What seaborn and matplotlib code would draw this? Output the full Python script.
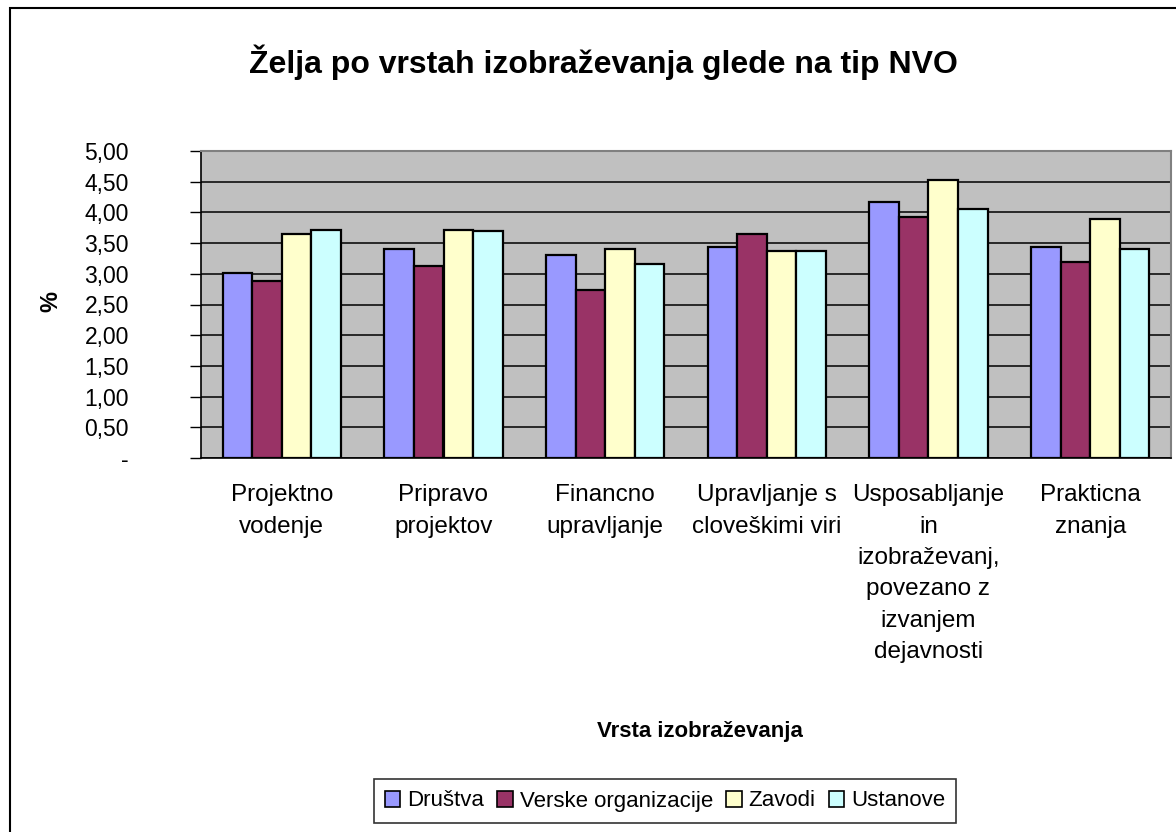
import matplotlib
matplotlib.use("Agg")
import matplotlib.pyplot as plt
import seaborn as sns
import pandas as pd
from matplotlib.patches import Patch, Rectangle

categories = [
    "Projektno\nvodenje",
    "Pripravo\nprojektov",
    "Financno\nupravljanje",
    "Upravljanje s\ncloveškimi viri",
    "Usposabljanje\nin\nizobraževanj,\npovezano z\nizvanjem\ndejavnosti",
    "Prakticna\nznanja",
]
series = ["Društva", "Verske organizacije", "Zavodi", "Ustanove"]
drustva = [3.01, 3.41, 3.30, 3.44, 4.17, 3.44]
verske = [2.88, 3.12, 2.74, 3.65, 3.93, 3.19]
zavodi = [3.65, 3.72, 3.41, 3.37, 4.52, 3.89]
ustanove = [3.72, 3.69, 3.16, 3.37, 4.06, 3.41]
colors = ["#9999FF", "#993366", "#FFFFCC", "#CCFFFF"]

rows = []
for name, vals in zip(series, [drustva, verske, zavodi, ustanove]):
    for cat, v in zip(categories, vals):
        rows.append({"Vrsta": cat, "NVO": name, "Vrednost": v})
df = pd.DataFrame(rows)

sns.set_style("white")
plt.rcParams["font.family"] = ["Liberation Sans", "DejaVu Sans"]
plt.rcParams["text.color"] = "black"
plt.rcParams["xtick.color"] = "black"
plt.rcParams["ytick.color"] = "black"

fig = plt.figure(figsize=(11.76, 8.32), dpi=100)
ax = fig.add_axes([201 / 1176, 1 - 458 / 832, 970 / 1176, 307 / 832])
ax.set_facecolor("#C0C0C0")

sns.barplot(data=df, x="Vrsta", y="Vrednost", hue="NVO", palette=colors,
            order=categories, hue_order=series, width=0.73, gap=0, saturation=1,
            edgecolor="black", linewidth=1.6, ax=ax, legend=False, zorder=3)

ax.set_xlim(-0.5, 5.5)
ax.set_ylim(0, 5)
yt = [i * 0.5 for i in range(11)]
ax.set_yticks(yt)
ax.set_yticklabels(["-"] + [f"{v:.2f}".replace(".", ",") for v in yt[1:]])
ax.yaxis.grid(True, color="black", linewidth=1.1)
ax.set_axisbelow(True)

ax.set_xticks(range(len(categories)))
ax.set_xticklabels(categories, linespacing=1.55)
ax.set_xticks([i - 0.5 for i in range(len(categories) + 1)], minor=True)
ax.tick_params(axis="x", which="major", length=0, pad=19, labelsize=17.5)
ax.tick_params(axis="x", which="minor", length=8, width=1, color="black", direction="out")
ax.tick_params(axis="y", length=8, width=1, color="black", direction="out",
               pad=44, labelsize=16.5, left=True)

for s in ["left", "bottom"]:
    ax.spines[s].set_color("black")
    ax.spines[s].set_linewidth(1.2)
for s in ["top", "right"]:
    ax.spines[s].set_color("#808080")
    ax.spines[s].set_linewidth(1.5)

ax.set_xlabel("")
ax.set_ylabel("")
fig.text(51 / 1176, 1 - 302 / 832, "%", rotation=90, fontsize=17, fontweight="bold",
         ha="center", va="center")
fig.text(700 / 1176, 1 - 732 / 832, "Vrsta izobraževanja", fontsize=16,
         fontweight="bold", ha="center", va="center")
fig.text(603 / 1176, 1 - 62 / 832, "Želja po vrstah izobraževanja glede na tip NVO",
         fontsize=23, fontweight="bold", ha="center", va="center")

handles = [Patch(facecolor=c, edgecolor="black", linewidth=1.2) for c in colors]
leg = fig.legend(handles, series, loc="center", bbox_to_anchor=(665 / 1176, 1 - 801 / 832),
                 ncol=4, frameon=True, fontsize=16, handlelength=0.7, handleheight=0.7,
                 handletextpad=0.3, columnspacing=0.6, borderpad=0.5, fancybox=False)
leg.get_frame().set_edgecolor("black")
leg.get_frame().set_linewidth(1.2)

fig.patches.append(Rectangle((10 / 1176, -0.05), 1.1, 1 - 8 / 832 + 0.05,
                             transform=fig.transFigure, fill=False,
                             edgecolor="black", linewidth=1.5))

fig.savefig("out.png", dpi=100)
